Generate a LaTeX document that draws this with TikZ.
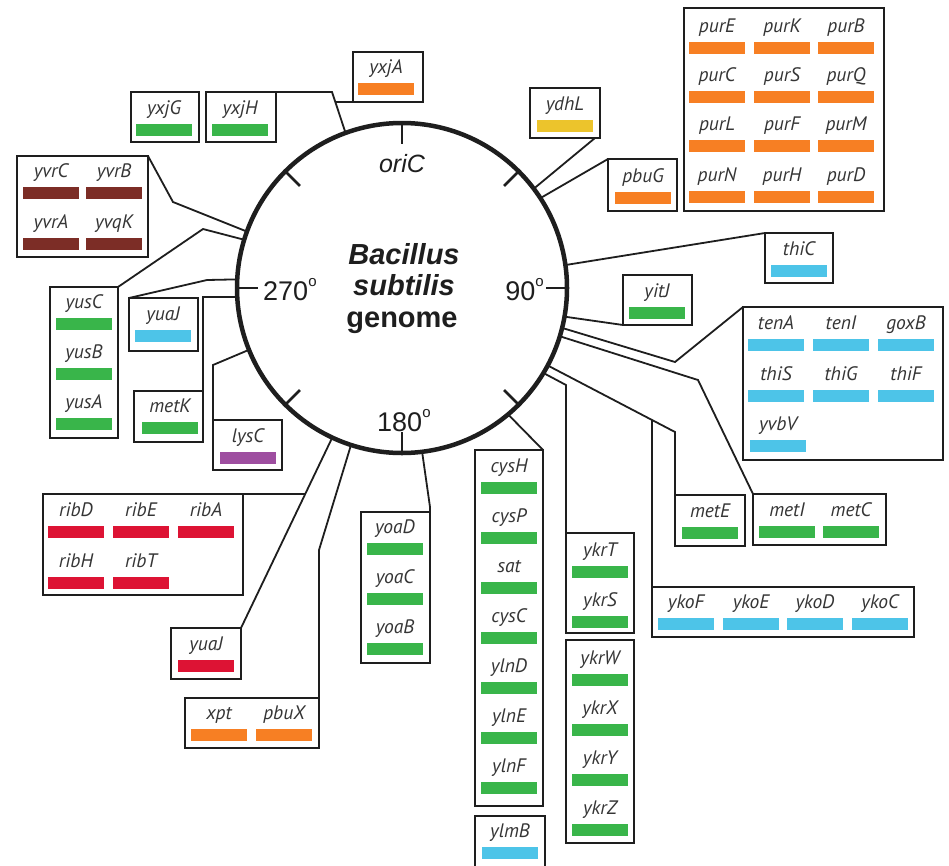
\documentclass[tikz,border=0pt]{standalone}
\usepackage{fontspec}
\setmainfont{Liberation Sans}
\newfontfamily\genefont{PT Sans}
\usetikzlibrary{calc}
\definecolor{gorange}{RGB}{247,127,35}
\definecolor{ggreen}{RGB}{57,181,74}
\definecolor{gblue}{RGB}{77,196,232}
\definecolor{gbrown}{RGB}{124,45,38}
\definecolor{gred}{RGB}{221,19,52}
\definecolor{gyellow}{RGB}{236,196,44}
\definecolor{gpurple}{RGB}{158,78,160}
\definecolor{ink}{RGB}{30,30,30}
\tikzset{
  gbox/.style={draw=ink, line width=1.8pt, fill=white, inner sep=0pt, outer sep=0pt, anchor=north west},
  gtxt/.style={font=\genefont\itshape\fontsize{19.5}{19.5}\selectfont, text=ink!90, inner sep=0pt, anchor=base},
  conn/.style={draw=ink, line width=1.8pt, line join=miter},
  tickmark/.style={draw=ink, line width=2.6pt},
  circlbl/.style={font=\fontsize{27}{27}\selectfont, text=ink, inner sep=0pt},
  title/.style={font=\bfseries\fontsize{29}{29}\selectfont, text=ink, inner sep=0pt, anchor=base}
}
\newcommand\degsym{\raisebox{0.5em}{\fontsize{15}{15}\selectfont o}}
% \gn{name}{bar x}{bar top y}{text}{colour}
\newcommand\gn[5]{\fill[#5] (#2,#3) rectangle ++(56,12); \node[gtxt] (#1) at (#2+28,#3-9.5) {#4};}
% \gbx{name}{x}{y}{w}{h}
\newcommand\gbx[5]{\node[gbox, minimum width=#4pt, minimum height=#5pt] (#1) at (#2,#3) {};}
\begin{document}
\begin{tikzpicture}[x=1pt,y=-1pt]
\useasboundingbox (0,0) rectangle (949,865);
\fill[white] (0,0) rectangle (949,865);

% genome circle (node first, for anchors)
\node[circle, minimum size=330pt, inner sep=0pt, outer sep=0pt] (G) at (402,288) {};

% junction coordinates
\coordinate (yxjB) at (332,92);
\coordinate (yxjJ) at (335.3,102);
\coordinate (ribJ) at (305,494);
\coordinate (ykoJ) at (652,420);

% boxes
\gbx{yxjA}{353}{52}{70}{50}
\gbx{yxjG}{131}{92}{68}{50}
\gbx{yxjH}{206}{92}{70}{50}
\gbx{yvr}{17}{156}{131}{101}
\gbx{yus}{50}{287}{68}{151}
\gbx{yuaJb}{129}{298}{69}{53}
\gbx{metK}{134}{391}{69}{51}
\gbx{lysC}{213}{420}{69}{50}
\gbx{rib}{43}{494}{200}{101}
\gbx{yuaJr}{171}{628}{70}{51}
\gbx{xpt}{185}{698}{134}{50}
\gbx{yoa}{361}{512}{69}{151}
\gbx{cys}{475}{450}{68}{356}
\node[gbox, draw=none, minimum width=70pt, minimum height=52pt] (ylmB) at (475,816) {};
\draw[ink, line width=1.8pt] (ylmB.south west) -- (ylmB.north west) -- (ylmB.north east) -- (ylmB.south east);
\gbx{ykrTS}{566}{533}{68}{100}
\gbx{ykrW}{566}{640}{68}{203}
\gbx{metE}{675}{495}{70}{51}
\gbx{metI}{753}{494}{133}{51}
\gbx{ykoF}{652}{587}{262}{50}
\gbx{tenA}{743}{307}{200}{153}
\gbx{yitJ}{623}{275}{69}{50}
\gbx{thiC}{765}{233}{68}{50}
\gbx{pbuG}{608}{159}{69}{52}
\gbx{ydhL}{530}{88}{70}{50}
\gbx{pur}{684}{8}{200}{203}

% connector lines
\draw[conn] (yxjH.north east) -- (yxjB) -- (G.110);
\draw[conn] (yxjA.south west) -- (yxjJ);
\draw[conn] (yvr.north east) -- (173,202) -- (G.160);
\draw[conn] (yus.north east) -- (203,229) -- (G.163);
\draw[conn] (yuaJb.north west) -- (207,280) -- (G.177.5);
\draw[conn] (metK.north east) -- (metK.north east |- G.183) -- (G.183);
\draw[conn] (lysC.north west) -- ++(0,-55) -- (G.202);
\draw[conn] (yuaJr.north east) -- (G.245);
\draw[conn] (rib.north east) -- (ribJ);
\draw[conn] (xpt.north east) -- ++(0,-148) -- (G.252);
\draw[conn] (yoa.north east) -- ++(0,-5) -- (G.277.5);
\draw[conn] (cys.north east) -- (G.310.5);
\draw[conn] (ykrTS.north west) -- ++(0,-148) -- (G.329);
\draw[conn] (metE.north west) -- ++(0,-63) -- (G.332);
\draw[conn] (ykoF.north west) -- (ykoJ);
\draw[conn] (metI.north west) -- (698,380) -- (G.343);
\draw[conn] (tenA.north west) -- (675,362) -- (G.346);
\draw[conn] (yitJ.south west) -- (G.350);
\draw[conn] (thiC.north west) -- (G.8.5);
\draw[conn] (pbuG.north west) -- (G.33);
\draw[conn] ($(ydhL.south east)+(-5,0)$) -- (G.37);

% circle and ticks
\draw[ink, line width=4.5pt] (G.center) circle (165);
\foreach \a in {0,45,...,315} \draw[tickmark] (G.\a) -- ($(G.center)!0.875!(G.\a)$);

% circle labels
\node[circlbl, anchor=base, font=\itshape\fontsize{25}{25}\selectfont] (oriC) at (402,172) {oriC};
\node[circlbl, anchor=base west] (d270) at (263,300) {270\degsym};
\node[circlbl, anchor=base east] (d90) at (544,300) {90\degsym};
\node[circlbl, anchor=base west] (d180) at (377,431) {180\degsym};
\node[title] (t1) at (404,264) {\itshape Bacillus};
\node[title] (t2) at (404,295.5) {\itshape subtilis};
\node[title] (t3) at (402,327) {genome};

% genes
\gn{g-yxjA}{358}{83}{yxjA}{gorange}
\gn{g-yxjG}{136}{124}{yxjG}{ggreen}
\gn{g-yxjH}{212}{124}{yxjH}{ggreen}
\gn{g-yvrC}{23}{187}{yvrC}{gbrown}
\gn{g-yvrB}{86}{187}{yvrB}{gbrown}
\gn{g-yvrA}{23}{238}{yvrA}{gbrown}
\gn{g-yvqK}{86}{238}{yvqK}{gbrown}
\gn{g-yusC}{56}{318}{yusC}{ggreen}
\gn{g-yusB}{56}{368}{yusB}{ggreen}
\gn{g-yusA}{56}{418}{yusA}{ggreen}
\gn{g-yuaJb}{135}{330}{yuaJ}{gblue}
\gn{g-metK}{142}{422}{metK}{ggreen}
\gn{g-lysC}{220}{452}{lysC}{gpurple}
\gn{g-ribD}{48}{526}{ribD}{gred}
\gn{g-ribE}{113}{526}{ribE}{gred}
\gn{g-ribA}{178}{526}{ribA}{gred}
\gn{g-ribH}{48}{577}{ribH}{gred}
\gn{g-ribT}{113}{577}{ribT}{gred}
\gn{g-yuaJr}{178}{660}{yuaJ}{gred}
\gn{g-xpt}{191}{729}{xpt}{gorange}
\gn{g-pbuX}{256}{729}{pbuX}{gorange}
\gn{g-yoaD}{367}{543}{yoaD}{ggreen}
\gn{g-yoaC}{367}{593}{yoaC}{ggreen}
\gn{g-yoaB}{367}{643}{yoaB}{ggreen}
\gn{g-cysH}{481}{482}{cysH}{ggreen}
\gn{g-cysP}{481}{532}{cysP}{ggreen}
\gn{g-sat}{481}{582}{sat}{ggreen}
\gn{g-cysC}{481}{632}{cysC}{ggreen}
\gn{g-ylnD}{481}{682}{ylnD}{ggreen}
\gn{g-ylnE}{481}{732}{ylnE}{ggreen}
\gn{g-ylnF}{481}{782}{ylnF}{ggreen}
\gn{g-ylmB}{482}{847}{ylmB}{gblue}
\gn{g-ykrT}{572}{566}{ykrT}{ggreen}
\gn{g-ykrS}{572}{616}{ykrS}{ggreen}
\gn{g-ykrW}{572}{674}{ykrW}{ggreen}
\gn{g-ykrX}{572}{724}{ykrX}{ggreen}
\gn{g-ykrY}{572}{774}{ykrY}{ggreen}
\gn{g-ykrZ}{572}{824}{ykrZ}{ggreen}
\gn{g-metE}{682}{527}{metE}{ggreen}
\gn{g-metI}{759}{526}{metI}{ggreen}
\gn{g-metC}{823}{526}{metC}{ggreen}
\gn{g-ykoF}{658}{618}{ykoF}{gblue}
\gn{g-ykoE}{723}{618}{ykoE}{gblue}
\gn{g-ykoD}{787}{618}{ykoD}{gblue}
\gn{g-ykoC}{852}{618}{ykoC}{gblue}
\gn{g-tenA}{748}{339}{tenA}{gblue}
\gn{g-tenI}{813}{339}{tenI}{gblue}
\gn{g-goxB}{878}{339}{goxB}{gblue}
\gn{g-thiS}{748}{390}{thiS}{gblue}
\gn{g-thiG}{813}{390}{thiG}{gblue}
\gn{g-thiF}{878}{390}{thiF}{gblue}
\gn{g-yvbV}{750}{440}{yvbV}{gblue}
\gn{g-yitJ}{629}{307}{yitJ}{ggreen}
\gn{g-thiC}{771}{265}{thiC}{gblue}
\gn{g-pbuG}{615}{192}{pbuG}{gorange}
\gn{g-ydhL}{537}{120}{ydhL}{gyellow}
\gn{g-purE}{689}{42}{purE}{gorange}
\gn{g-purK}{754}{42}{purK}{gorange}
\gn{g-purB}{818}{42}{purB}{gorange}
\gn{g-purC}{689}{91}{purC}{gorange}
\gn{g-purS}{754}{91}{purS}{gorange}
\gn{g-purQ}{818}{91}{purQ}{gorange}
\gn{g-purL}{689}{140}{purL}{gorange}
\gn{g-purF}{754}{140}{purF}{gorange}
\gn{g-purM}{818}{140}{purM}{gorange}
\gn{g-purN}{689}{191}{purN}{gorange}
\gn{g-purH}{754}{191}{purH}{gorange}
\gn{g-purD}{818}{191}{purD}{gorange}
\end{tikzpicture}
\end{document}
